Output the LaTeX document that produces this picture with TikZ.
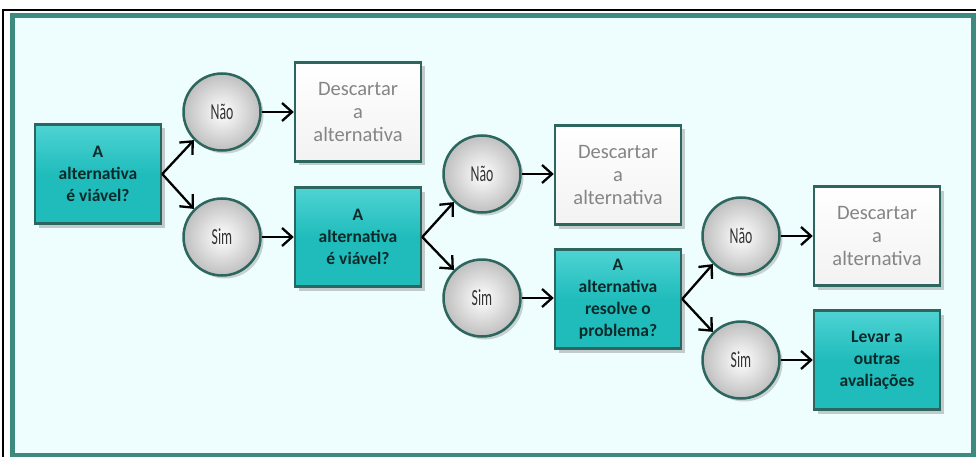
\documentclass[tikz,border=0pt]{standalone}
\usepackage{fontspec}
\setmainfont{Carlito}
\usetikzlibrary{arrows.meta,shadows}
\definecolor{bg}{HTML}{EEFDFD}
\definecolor{framec}{HTML}{3F8A7E}
\definecolor{tealfill}{HTML}{20BCBC}
\definecolor{tealtop}{HTML}{4FD3D3}
\definecolor{edgec}{HTML}{2C665E}
\definecolor{qtext}{HTML}{0A2A2A}
\definecolor{dtext}{HTML}{858585}
\definecolor{ctext}{HTML}{333333}
\tikzset{
  qbox/.style={rectangle, minimum width=126pt, minimum height=99pt, draw=edgec, line width=2.5pt,
    top color=tealtop, bottom color=tealfill, middle color=tealfill, text=qtext,
    font=\bfseries\fontsize{17.5}{22}\selectfont, align=center, inner sep=0pt,
    drop shadow={shadow xshift=4pt,shadow yshift=-4pt,opacity=0.4}},
  dbox/.style={rectangle, minimum width=126pt, minimum height=99pt, draw=edgec, line width=2.5pt,
    top color=white, bottom color=white!90!gray, text=dtext,
    font=\fontsize{20.5}{23}\selectfont, align=center, inner sep=0pt,
    drop shadow={shadow xshift=4pt,shadow yshift=-4pt,opacity=0.4}},
  choice/.style={circle, minimum size=77pt, draw=edgec, line width=2.5pt,
    inner color=white, outer color=black!25, text=ctext,
    font=\fontsize{23}{24}\selectfont, inner sep=0pt,
    drop shadow={shadow xshift=3pt,shadow yshift=-3pt,opacity=0.35}},
  arr/.style={-{Straight Barb[length=10pt,width=18pt]}, line width=2.3pt, black}
}
\newcommand{\cond}[1]{\scalebox{0.6}[1]{#1}}
\begin{document}
\begin{tikzpicture}[x=1pt,y=-1pt]
\useasboundingbox (0,0) rectangle (976,457);
\fill[white] (0,0) rectangle (976,457);
\draw[black, line width=2pt] (3,457) -- (3,10) -- (976,10);
\draw[framec, line width=5pt, fill=bg] (12,16) rectangle (973,455);

\node[qbox] (b1) at (98,174) {A\\alternativa\\é viável?};
\node[choice] (n1) at (222,112) {\cond{Não}};
\node[choice] (s1) at (222,237) {\cond{Sim}};
\node[dbox] (d1) at (358,112) {Descartar\\a\\alternativa};
\node[qbox] (b2) at (358,237) {A\\alternativa\\é viável?};
\node[choice] (n2) at (482,174) {\cond{Não}};
\node[choice] (s2) at (482,298) {\cond{Sim}};
\node[dbox] (d2) at (618,175) {Descartar\\a\\alternativa};
\node[qbox] (b3) at (618,299) {A\\alternativa\\resolve o\\problema?};
\node[choice] (n3) at (741,236) {\cond{Não}};
\node[choice] (s3) at (741,360) {\cond{Sim}};
\node[dbox] (d3) at (877,236) {Descartar\\a\\alternativa};
\node[qbox] (b4) at (877,360) {Levar a\\outras\\avaliações};

\draw[arr] (b1.east) -- (n1.225);
\draw[arr] (b1.east) -- (s1.135);
\draw[arr] (n1.east) -- (n1.east -| d1.west);
\draw[arr] (s1.east) -- (s1.east -| b2.west);
\draw[arr] (b2.east) -- (n2.225);
\draw[arr] (b2.east) -- (s2.135);
\draw[arr] (n2.east) -- (n2.east -| d2.west);
\draw[arr] (s2.east) -- (s2.east -| b3.west);
\draw[arr] (b3.east) -- (n3.225);
\draw[arr] (b3.east) -- (s3.135);
\draw[arr] (n3.east) -- (n3.east -| d3.west);
\draw[arr] (s3.east) -- (s3.east -| b4.west);
\end{tikzpicture}
\end{document}
